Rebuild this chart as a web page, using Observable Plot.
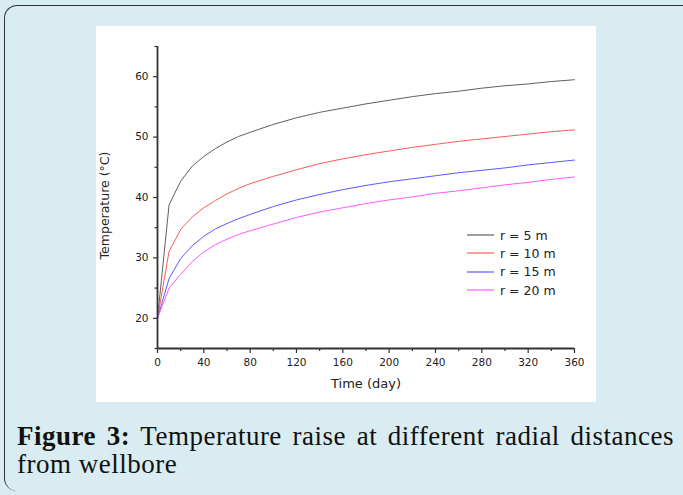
<!DOCTYPE html>
<html>
<head>
<meta charset="utf-8">
<script src="https://cdn.jsdelivr.net/npm/d3@7"></script>
<script src="https://cdn.jsdelivr.net/npm/@observablehq/plot@0.6"></script>
<style>
  html, body { margin: 0; padding: 0; width: 683px; height: 495px; overflow: hidden; background: #d8ecf2; }
  #frame { position: absolute; left: 4px; top: 5px; width: 720px; height: 486px; box-sizing: border-box;
           border-left: 1.5px solid #333; border-top: 1.5px solid #333; border-radius: 13px 0 0 13px; }
  #panel { position: absolute; left: 96px; top: 26px; width: 500px; height: 376px; background: #fff; }
  #panel svg { display: block; }
  #legend { position: absolute; left: 467px; top: 226px; font-family: "DejaVu Sans"; font-size: 12.5px; color: #222; }
  .row { height: 18.3px; display: flex; align-items: center; white-space: nowrap; }
  .row svg { margin-right: 6px; display: block; }
  .cap { position: absolute; left: 17px; width: 657px; height: 28px; font-family: "Liberation Serif"; font-size: 27px;
         line-height: 28px; color: #111; letter-spacing: 0.5px; white-space: nowrap; }
  #cap1 { top: 422px; text-align: justify; text-align-last: justify; }
  #cap2 { top: 450px; text-align: left; }
  .cap b { font-weight: bold; }
</style>
</head>
<body>
<div id="frame"></div>
<div id="panel"></div>
<div id="legend"></div>
<div id="cap1" class="cap"><b>Figure 3:</b> Temperature raise at different radial distances</div>
<div id="cap2" class="cap">from wellbore</div>
<script>
// Data
const days = [0, 10, 20, 30, 40, 50, 60, 70, 80, 100, 120, 140, 160, 180, 200, 220, 240, 260, 280, 300, 320, 340, 360];
const t5  = [20, 38.8, 42.7, 45.2, 46.8, 48.1, 49.2, 50.1, 50.8, 52.1, 53.2, 54.1, 54.8, 55.5, 56.1, 56.7, 57.2, 57.6, 58.1, 58.5, 58.8, 59.2, 59.5];
const t10 = [20, 31.1, 34.7, 36.8, 38.3, 39.5, 40.6, 41.5, 42.3, 43.5, 44.6, 45.6, 46.4, 47.1, 47.7, 48.3, 48.8, 49.3, 49.7, 50.1, 50.5, 50.9, 51.2];
const t15 = [20, 26.6, 29.9, 32.0, 33.6, 34.8, 35.7, 36.5, 37.2, 38.5, 39.6, 40.5, 41.3, 42.0, 42.6, 43.1, 43.6, 44.1, 44.5, 44.9, 45.4, 45.8, 46.2];
const t20 = [20, 25.0, 27.3, 29.4, 31.0, 32.2, 33.1, 33.9, 34.5, 35.6, 36.7, 37.6, 38.3, 39.0, 39.6, 40.1, 40.7, 41.1, 41.6, 42.1, 42.5, 43.0, 43.4];
const seriesNames = ["r = 5 m", "r = 10 m", "r = 15 m", "r = 20 m"];
const seriesColors = ["#606060", "#ff5a5a", "#5a5aff", "#ff5aff"];
const xTicks = [0, 40, 80, 120, 160, 200, 240, 280, 320, 360];
const xMinor = [20, 60, 100, 140, 180, 220, 260, 300, 340];
const yTicks = [20, 30, 40, 50, 60];
const yMinor = [15, 25, 35, 45, 55, 65];
const xLabel = "Time (day)";
const yLabel = "Temperature (°C)";

const allSeries = [t5, t10, t15, t20];
const rows = [];
allSeries.forEach((vals, s) => vals.forEach((v, i) => rows.push({day: days[i], temp: v, series: seriesNames[s]})));

const axisColor = "#333";
const plot = Plot.plot({
  width: 500, height: 376,
  marginLeft: 61, marginRight: 22, marginTop: 20, marginBottom: 54,
  x: {domain: [0, 360]},
  y: {domain: [15, 65]},
  color: {domain: seriesNames, range: seriesColors},
  style: {fontFamily: "DejaVu Sans", fontSize: "10.5px", color: "#222", background: "transparent", overflow: "visible"},
  marks: [
    Plot.line(rows, {x: "day", y: "temp", z: "series", stroke: "series", strokeWidth: 1}),
    Plot.axisX({ticks: xMinor, tickSize: 3, text: null, label: null, stroke: axisColor, strokeWidth: 1.2}),
    Plot.axisX({ticks: xTicks, tickSize: 5, tickPadding: 5, label: null, stroke: axisColor, strokeWidth: 1.2, tickFormat: d => String(d)}),
    Plot.axisY({ticks: yMinor, tickSize: 2.5, text: null, label: null, stroke: axisColor, strokeWidth: 1.2}),
    Plot.axisY({ticks: yTicks, tickSize: 4, tickPadding: 5, label: null, stroke: axisColor, strokeWidth: 1.2, tickFormat: d => String(d)}),
    Plot.ruleX([0], {stroke: axisColor, strokeWidth: 1.8}),
    Plot.ruleY([15], {stroke: axisColor, strokeWidth: 1.8}),
    Plot.text([yLabel], {text: d => d, frameAnchor: "left", rotate: -90, dx: -53, dy: 8, fontSize: 12.5, textAnchor: "middle", fill: "#222"}),
    Plot.text([xLabel], {text: d => d, frameAnchor: "bottom", dy: 39, fontSize: 13, textAnchor: "middle", fill: "#222"})
  ]
});
document.getElementById("panel").appendChild(plot);

const legend = document.getElementById("legend");
const NS = "http://www.w3.org/2000/svg";
seriesNames.forEach((name, i) => {
  const row = document.createElement("div");
  row.className = "row";
  const svg = document.createElementNS(NS, "svg");
  svg.setAttribute("width", "27");
  svg.setAttribute("height", "4");
  const ln = document.createElementNS(NS, "line");
  ln.setAttribute("x1", "0"); ln.setAttribute("x2", "27");
  ln.setAttribute("y1", "2"); ln.setAttribute("y2", "2");
  ln.setAttribute("stroke", seriesColors[i]);
  ln.setAttribute("stroke-width", "1.2");
  svg.appendChild(ln);
  row.appendChild(svg);
  row.appendChild(document.createTextNode(name));
  legend.appendChild(row);
});
</script>
</body>
</html>
